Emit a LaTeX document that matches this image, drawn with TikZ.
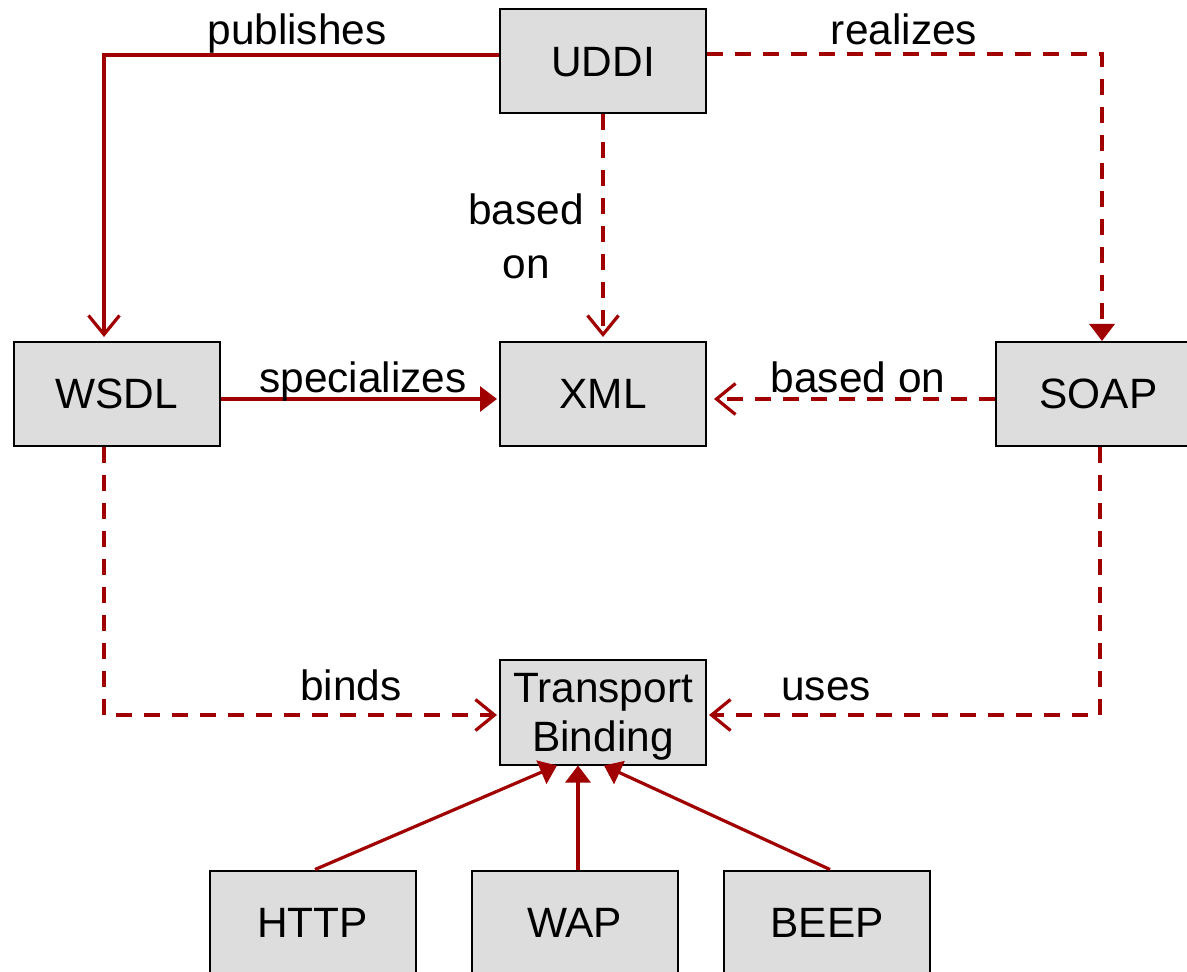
\documentclass[tikz,border=0pt]{standalone}
\usepackage{fontspec}
\setmainfont{Liberation Sans}
\usetikzlibrary{arrows.meta}
\definecolor{linkred}{RGB}{160,0,0}
\definecolor{boxgray}{RGB}{221,221,221}
\begin{document}
\begin{tikzpicture}[x=0.5pt,y=-0.5pt,
  every node/.style={font=\fontsize{21.2}{25}\selectfont},
  box/.style={draw=black,line width=1pt,fill=boxgray,inner sep=0pt,
    minimum width=103pt,minimum height=52pt,text depth=0pt,align=center},
  lbl/.style={anchor=base,inner sep=0pt},
  link/.style={draw=linkred,line width=1.6pt,line join=miter},
  dashlink/.style={link,dash pattern=on 8pt off 6pt},
  opentip/.style={-{Straight Barb[length=9.5pt,width=15.5pt,line width=1.6pt]}},
  solidtip/.style={-{Triangle[length=8.5pt,width=12.5pt]}}]
  \clip (0,0) rectangle (1187,972);
  \fill[white] (0,0) rectangle (1187,972);

  % component boxes
  \node[box] (uddi) at (603,61.5) {UDDI};
  \node[box] (wsdl) at (116.5,394) {WSDL};
  \node[box] (xml)  at (603,394) {XML};
  \node[box] (soap) at (1098.5,394) {SOAP};
  \node[box,minimum height=52.5pt] (tb) at (603,712) {Transport\\[-0.5pt]Binding};
  \node[box] (http) at (312.5,922.5) {HTTP};
  \node[box] (wap)  at (574.5,922.5) {WAP};
  \node[box] (beep) at (827,922.5) {BEEP};

  % relations
  \draw[link,opentip,shorten >=2pt] (uddi.west |- 0,55) -| (wsdl.north -| 104,0);
  \draw[dashlink,solidtip] (uddi.east |- 0,54) -| (soap.north -| 1102,0);
  \draw[dashlink,opentip,shorten >=2pt] (uddi.south) -- (xml.north);
  \draw[link,solidtip,shorten >=1pt] (wsdl.east |- 0,399) -- (xml.west |- 0,399);
  \draw[dashlink,opentip,shorten >=3.5pt] (soap.west |- 0,399) -- (xml.east |- 0,399);
  \draw[dashlink,opentip,shorten >=1pt] (wsdl.south -| 104,0) |- (tb.west |- 0,715);
  \draw[dashlink,opentip,shorten >=1pt] (soap.south -| 1100,0) |- (tb.east |- 0,715);
  \draw[link,solidtip] (http.north -| 315,0) -- (tb.south -| 557,0);
  \draw[link,solidtip] (wap.north -| 578,0) -- (tb.south -| 578,0);
  \draw[link,solidtip] (beep.north -| 830,0) -- (tb.south -| 604,0);

  % relation labels
  \node[lbl] (lpub) at (297,45) {publishes};
  \node[lbl] (lreal) at (904,45) {realizes};
  \node[align=center,inner sep=0pt,text depth=0pt] (lbase) at (526,236) {based\\[2pt]on};
  \node[lbl] (lspec) at (363,393) {specializes};
  \node[lbl] (lbased) at (858,393) {based on};
  \node[lbl] (lbind) at (351,700) {binds};
  \node[lbl] (luses) at (826,700) {uses};
\end{tikzpicture}
\end{document}
